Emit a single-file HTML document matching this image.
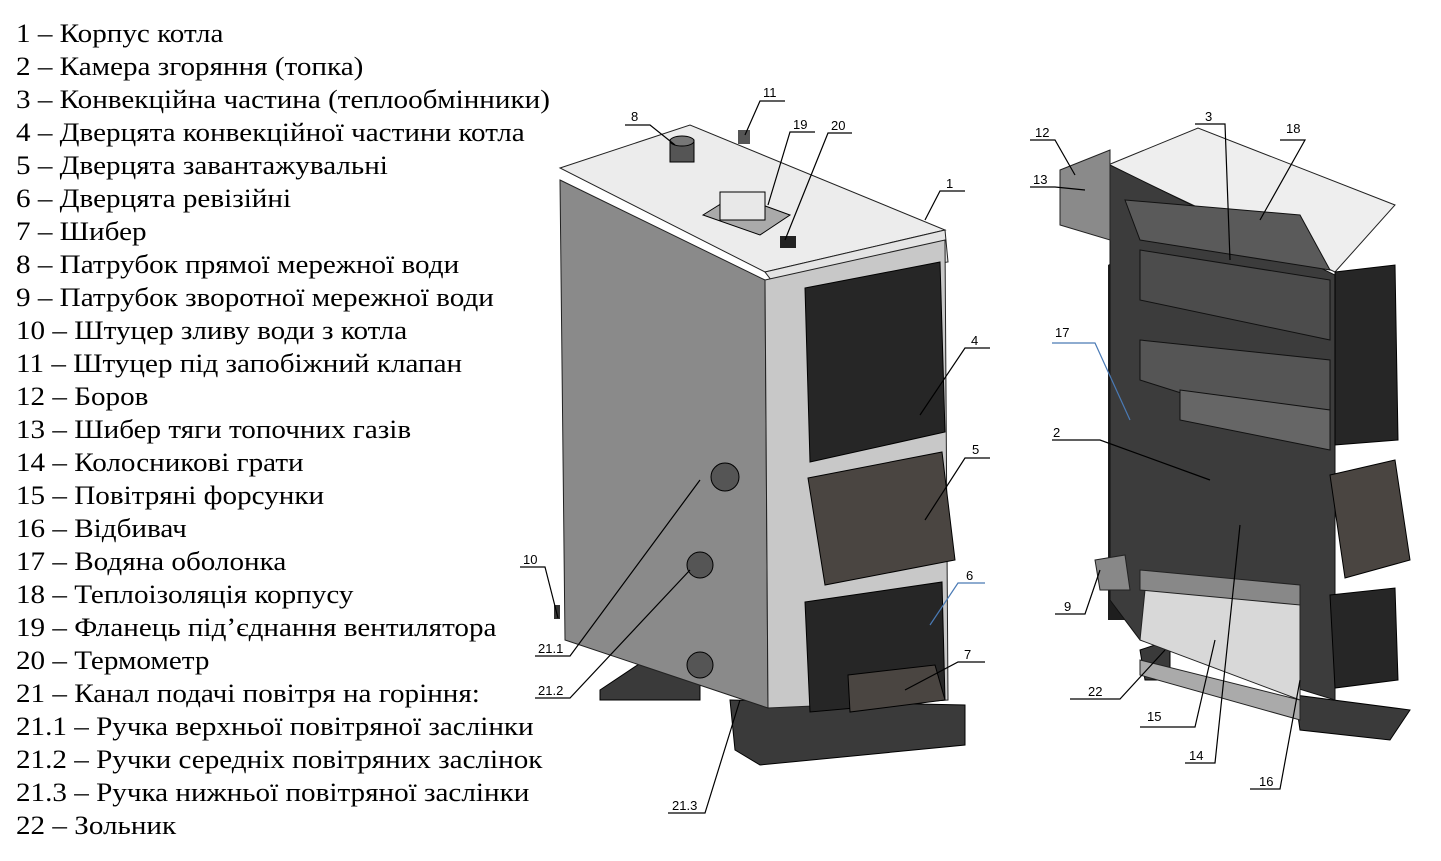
<!DOCTYPE html>
<html><head><meta charset="utf-8">
<style>
html,body{margin:0;padding:0;background:#fff;width:1441px;height:861px;overflow:hidden}
.list{position:absolute;left:16px;top:17px;font-family:"Liberation Serif",serif;font-size:26px;line-height:33px;color:#000;white-space:nowrap;transform:scaleX(1.12);transform-origin:0 0}
svg{position:absolute;left:0;top:0}
svg text{font-family:"Liberation Sans",sans-serif;font-size:13px;fill:#000}
</style></head><body>
<div class="list">
1 – Корпус котла<br>
2 – Камера згоряння (топка)<br>
3 – Конвекційна частина (теплообмінники)<br>
4 – Дверцята конвекційної частини котла<br>
5 – Дверцята завантажувальні<br>
6 – Дверцята ревізійні<br>
7 – Шибер<br>
8 – Патрубок прямої мережної води<br>
9 – Патрубок зворотної мережної води<br>
10 – Штуцер зливу води з котла<br>
11 – Штуцер під запобіжний клапан<br>
12 – Боров<br>
13 – Шибер тяги топочних газів<br>
14 – Колосникові грати<br>
15 – Повітряні форсунки<br>
16 – Відбивач<br>
17 – Водяна оболонка<br>
18 – Теплоізоляція корпусу<br>
19 – Фланець під’єднання вентилятора<br>
20 – Термометр<br>
21 – Канал подачі повітря на горіння:<br>
21.1 – Ручка верхньої повітряної заслінки<br>
21.2 – Ручки середніх повітряних заслінок<br>
21.3 – Ручка нижньої повітряної заслінки<br>
22 – Зольник
</div>
<svg width="1441" height="861" viewBox="0 0 1441 861">
<!-- LEFT BOILER -->
<polygon points="730,700 965,705 965,745 760,765 735,750" fill="#3a3a3a" stroke="#000"/>
<polygon points="600,690 660,650 700,680 700,700 600,700" fill="#3a3a3a" stroke="#000"/>
<polygon points="560,180 765,280 768,708 565,640" fill="#8a8a8a" stroke="#222"/>
<polygon points="560,168 690,125 945,230 765,272" fill="#ececec" stroke="#222"/>
<polygon points="765,272 945,230 948,262 775,285" fill="#e4e4e4" stroke="#222"/>
<polygon points="765,280 945,240 948,700 768,708" fill="#c8c8c8" stroke="#222"/>
<polygon points="805,288 940,262 945,432 810,462" fill="#262626" stroke="#000"/>
<polygon points="808,478 942,452 955,560 825,585" fill="#4a4541" stroke="#000"/>
<polygon points="805,602 942,582 945,700 810,712" fill="#262626" stroke="#000"/>
<polygon points="848,675 935,665 945,700 850,712" fill="#4a4541" stroke="#000"/>
<rect x="670" y="140" width="24" height="22" fill="#555" stroke="#000"/>
<ellipse cx="682" cy="141" rx="12" ry="5" fill="#777" stroke="#000"/>
<rect x="738" y="130" width="12" height="14" fill="#555"/>
<polygon points="703,215 735,195 790,215 760,235" fill="#aaa" stroke="#000"/>
<rect x="720" y="192" width="45" height="28" fill="#e8e8e8" stroke="#000"/>
<rect x="780" y="236" width="16" height="12" fill="#222"/>
<circle cx="725" cy="477" r="14" fill="#555" stroke="#000"/>
<circle cx="700" cy="565" r="13" fill="#555" stroke="#000"/>
<circle cx="700" cy="665" r="13" fill="#555" stroke="#000"/>
<rect x="554" y="605" width="6" height="14" fill="#333"/>
<!-- RIGHT BOILER -->
<polygon points="1295,695 1410,710 1390,740 1300,730" fill="#3a3a3a" stroke="#000"/>
<polygon points="1140,650 1170,640 1170,680 1145,680" fill="#3a3a3a" stroke="#000"/>
<polygon points="1108,165 1198,128 1395,205 1335,272" fill="#eeeeee" stroke="#222"/>
<polygon points="1108,265 1140,245 1140,620 1108,620" fill="#1e1e1e"/>
<polygon points="1110,165 1335,275 1335,700 1140,640 1110,600" fill="#3c3c3c" stroke="#111"/>
<polygon points="1125,200 1300,215 1330,270 1140,240" fill="#5a5a5a" stroke="#111"/>
<polygon points="1140,250 1330,280 1330,340 1140,300" fill="#4c4c4c" stroke="#111"/>
<polygon points="1140,340 1330,360 1330,440 1140,380" fill="#555" stroke="#111"/>
<polygon points="1180,390 1330,410 1330,450 1180,420" fill="#666" stroke="#111"/>
<polygon points="1335,272 1395,265 1398,440 1335,445" fill="#262626" stroke="#000"/>
<polygon points="1330,475 1395,460 1410,560 1345,578" fill="#4a4541" stroke="#000"/>
<polygon points="1330,595 1395,588 1398,680 1335,688" fill="#262626" stroke="#000"/>
<polygon points="1145,590 1300,600 1300,700 1140,640" fill="#d8d8d8" stroke="#222"/>
<polygon points="1140,570 1300,585 1300,605 1140,590" fill="#888" stroke="#222"/>
<polygon points="1060,170 1110,150 1110,240 1060,225" fill="#8a8a8a" stroke="#222"/>
<polygon points="1095,560 1125,555 1130,590 1100,590" fill="#888" stroke="#222"/>
<polygon points="1140,660 1300,700 1300,720 1140,675" fill="#aaa" stroke="#222"/>
<!-- LEADERS -->
<g stroke="#000" stroke-width="1.2" fill="none">
<path d="M625,125H650L675,145"/>
<path d="M785,101H760L745,135"/>
<path d="M815,132H790L768,205"/>
<path d="M852,133H828L785,240"/>
<path d="M965,191H940L925,220"/>
<path d="M990,348H965L920,415"/>
<path d="M990,458H965L925,520"/>
<path d="M985,662H958L905,690"/>
<path d="M520,567H545L558,618"/>
<path d="M535,656H570L700,480"/>
<path d="M535,698H570L690,570"/>
<path d="M668,813H705L740,700"/>
<path d="M1030,140H1055L1075,175"/>
<path d="M1030,187H1055L1085,190"/>
<path d="M1195,124H1225L1230,260"/>
<path d="M1280,140H1305L1260,220"/>
<path d="M1052,440H1100L1210,480"/>
<path d="M1055,614H1085L1100,570"/>
<path d="M1070,699H1120L1165,650"/>
<path d="M1140,727H1195L1215,640"/>
<path d="M1185,763H1215L1240,525"/>
<path d="M1250,789H1280L1300,680"/>
</g>
<g stroke="#4a7ab5" stroke-width="1.2" fill="none">
<path d="M985,583H958L930,625"/>
<path d="M1052,343H1095L1130,420"/>
</g>
<text x="631" y="121">8</text>
<text x="763" y="97">11</text>
<text x="793" y="129">19</text>
<text x="831" y="130">20</text>
<text x="946" y="188">1</text>
<text x="971" y="345">4</text>
<text x="972" y="454">5</text>
<text x="966" y="580">6</text>
<text x="964" y="659">7</text>
<text x="523" y="564">10</text>
<text x="538" y="653">21.1</text>
<text x="538" y="695">21.2</text>
<text x="672" y="810">21.3</text>
<text x="1035" y="137">12</text>
<text x="1033" y="184">13</text>
<text x="1205" y="121">3</text>
<text x="1286" y="133">18</text>
<text x="1055" y="337">17</text>
<text x="1053" y="437">2</text>
<text x="1064" y="611">9</text>
<text x="1088" y="696">22</text>
<text x="1147" y="721">15</text>
<text x="1189" y="760">14</text>
<text x="1259" y="786">16</text>
</svg>
</body></html>
